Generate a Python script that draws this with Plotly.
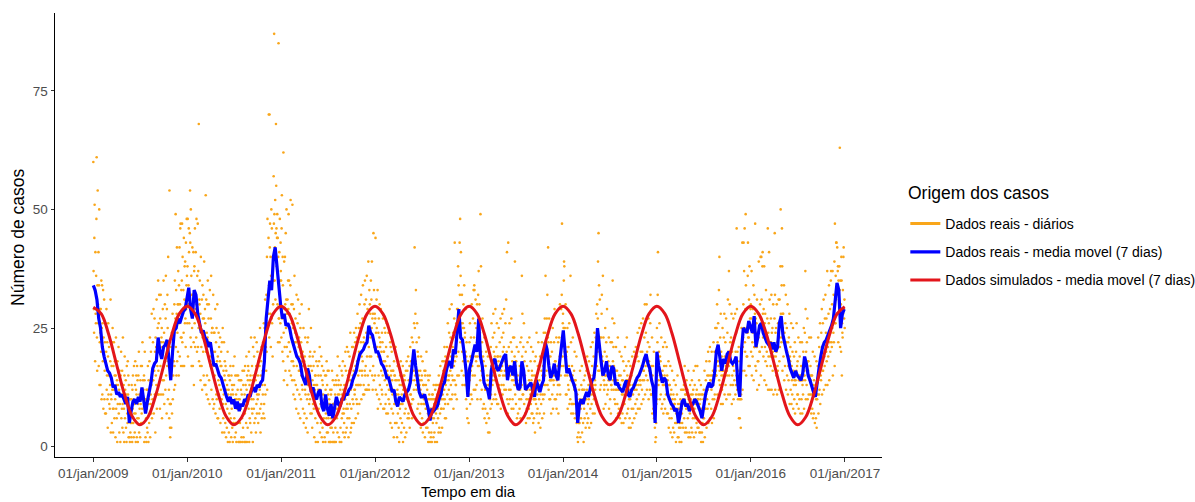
import pandas as pd
import plotly.graph_objects as go

# ---------------------------------------------------------------------------
# Daily reported cases, one list per year (starting on 1 January)
# ---------------------------------------------------------------------------
casos_2009 = [
    60, 37, 29, 24, 44, 51, 33, 18, 41, 28, 26, 36, 48, 61,
    23, 16, 34, 54, 30, 26, 41, 17, 34, 50, 13, 22, 29, 24,
    13, 29, 20, 35, 10, 25, 34, 11, 26, 18, 33, 8, 23, 20,
    31, 10, 16, 22, 7, 26, 18, 7, 20, 29, 12, 15, 22, 10,
    4, 19, 26, 11, 15, 21, 9, 23, 8, 13, 18, 31, 3, 11,
    10, 17, 5, 22, 12, 25, 8, 3, 17, 8, 22, 12, 6, 15,
    18, 10, 2, 15, 23, 8, 13, 6, 14, 1, 18, 9, 13, 16,
    21, 7, 12, 3, 16, 9, 14, 1, 15, 11, 20, 6, 13, 8,
    16, 4, 9, 23, 11, 3, 13, 8, 1, 15, 19, 6, 12, 10,
    14, 4, 11, 1, 17, 9, 7, 5, 18, 11, 15, 2, 13, 10,
    2, 7, 1, 10, 3, 5, 8, 10, 2, 13, 5, 1, 12, 8,
    15, 5, 10, 2, 17, 7, 9, 3, 13, 18, 7, 1, 12, 15,
    11, 2, 17, 6, 14, 1, 9, 15, 6, 20, 3, 11, 8, 10,
    2, 14, 9, 17, 5, 12, 7, 17, 8, 22, 5, 14, 10, 12,
    5, 15, 1, 14, 20, 8, 10, 2, 10, 6, 1, 12, 8, 4,
    12, 3, 17, 9, 1, 14, 10, 5, 18, 12, 23, 2, 9, 11,
    20, 7, 13, 28, 6, 14, 10, 9, 22, 14, 29, 7, 17, 16,
    27, 11, 20, 3, 23, 15, 21, 13, 31, 8, 21, 17, 25, 11,
    35, 16, 26, 11, 32, 20, 22, 8, 27, 17, 32, 11, 22, 23,
    25, 6, 21, 14, 29, 11, 22, 35, 14, 24, 9, 18, 30, 18,
    12, 27, 36, 15, 22, 7, 29, 17, 32, 25, 10, 40, 18, 17,
    12, 6, 54, 9, 4, 2, 9, 9, 21, 4, 15, 24, 7, 17,
    28, 10, 22, 15, 23, 18, 12, 30, 17, 35, 13, 27, 49, 21,
    33, 15, 28, 42, 18, 24, 30, 20, 37, 30, 15, 34, 26, 42,
    19, 30, 46, 47, 23, 17, 33, 23, 35, 47, 22, 40, 17, 28,
    33, 24, 44, 17, 31, 38, 26, 39, 27, 21, 43, 29, 34, 48,
    36,
]

casos_2010 = [
    26, 38, 48, 19, 30, 34, 46, 41, 26, 30, 45, 54, 43, 23,
    50, 21, 36, 17, 32, 25, 42, 32, 17, 29, 41, 22, 13, 37,
    38, 26, 46, 21, 32, 41, 29, 23, 48, 30, 20, 36, 28, 47,
    21, 37, 25, 68, 18, 31, 30, 35, 17, 28, 14, 40, 24, 21,
    17, 31, 12, 34, 23, 27, 20, 32, 15, 27, 39, 13, 24, 29,
    26, 13, 53, 20, 31, 11, 24, 15, 30, 23, 35, 10, 22, 27,
    30, 14, 22, 9, 33, 19, 18, 17, 27, 36, 12, 24, 20, 25,
    25, 10, 20, 32, 8, 17, 24, 9, 24, 15, 20, 29, 7, 17,
    22, 11, 25, 10, 18, 30, 6, 19, 6, 14, 24, 11, 21, 13,
    8, 18, 23, 5, 17, 12, 20, 17, 10, 22, 3, 14, 25, 9,
    6, 16, 11, 22, 3, 15, 18, 14, 5, 17, 9, 2, 16, 12,
    4, 13, 8, 20, 1, 11, 15, 12, 3, 15, 7, 1, 14, 10,
    17, 6, 11, 2, 15, 8, 13, 4, 12, 1, 11, 17, 5, 9,
    13, 6, 19, 2, 10, 15, 5, 3, 11, 1, 10, 15, 5, 8,
    12, 5, 15, 1, 10, 14, 9, 1, 10, 5, 14, 1, 8, 12,
    14, 2, 11, 6, 1, 16, 9, 4, 13, 2, 9, 16, 1, 11,
    7, 17, 1, 13, 10, 5, 19, 12, 1, 15, 9, 4, 14, 17,
    16, 8, 20, 1, 13, 6, 14, 5, 15, 11, 23, 3, 10, 8,
    17, 7, 14, 1, 21, 10, 15, 8, 19, 5, 23, 12, 15, 6,
    14, 3, 17, 9, 22, 7, 11, 20, 10, 15, 5, 18, 11, 13,
    7, 17, 12, 25, 8, 3, 15, 18, 9, 21, 6, 14, 13, 16,
    11, 22, 7, 17, 26, 9, 6, 25, 13, 31, 11, 20, 21, 16,
    32, 20, 40, 12, 48, 28, 26, 28, 44, 70, 34, 23, 70, 42,
    47, 28, 40, 21, 36, 50, 27, 46, 26, 36, 19, 40, 30, 35,
    57, 47, 87, 49, 35, 42, 52, 31, 45, 68, 55, 46, 38, 44,
    49, 30, 44, 22, 40, 85, 27, 27, 41, 22, 48, 35, 26, 43,
    37,
]

casos_2011 = [
    35, 23, 46, 53, 27, 20, 40, 34, 18, 62, 24, 14, 39, 29,
    21, 40, 30, 16, 45, 25, 31, 50, 21, 28, 13, 31, 19, 35,
    29, 49, 22, 35, 16, 28, 25, 20, 34, 52, 15, 27, 30, 18,
    26, 14, 51, 30, 18, 25, 11, 17, 29, 14, 36, 22, 10, 24,
    27, 13, 22, 8, 32, 17, 23, 12, 26, 19, 31, 7, 21, 16,
    23, 11, 28, 16, 6, 25, 19, 10, 22, 15, 30, 13, 18, 12,
    20, 8, 17, 25, 5, 14, 18, 7, 19, 12, 23, 11, 4, 16,
    16, 6, 15, 10, 22, 3, 13, 23, 11, 17, 29, 9, 14, 19,
    10, 20, 7, 17, 25, 13, 12, 7, 16, 4, 14, 19, 9, 11,
    17, 8, 13, 2, 20, 12, 15, 6, 15, 1, 13, 18, 8, 11,
    13, 5, 17, 1, 12, 15, 8, 7, 18, 11, 21, 3, 12, 9,
    15, 5, 19, 11, 2, 17, 14, 4, 13, 1, 11, 16, 6, 9,
    10, 2, 8, 15, 1, 12, 7, 15, 6, 18, 3, 13, 9, 16,
    3, 11, 6, 16, 1, 10, 8, 9, 1, 12, 4, 1, 11, 6,
    12, 4, 16, 8, 1, 14, 9, 3, 9, 1, 8, 13, 1, 6,
    11, 4, 14, 1, 9, 13, 8, 6, 15, 3, 19, 11, 8, 13,
    14, 2, 11, 17, 1, 9, 12, 4, 13, 9, 1, 16, 6, 11,
    15, 7, 18, 3, 12, 8, 7, 5, 13, 2, 17, 10, 20, 3,
    16, 8, 13, 4, 21, 9, 6, 8, 15, 20, 2, 11, 16, 6,
    19, 9, 14, 24, 3, 12, 4, 8, 17, 5, 21, 13, 10, 15,
    21, 9, 16, 5, 24, 12, 11, 12, 22, 17, 6, 25, 13, 10,
    23, 9, 18, 28, 13, 7, 15, 13, 25, 20, 9, 30, 16, 13,
    26, 13, 22, 32, 10, 19, 16, 15, 27, 18, 34, 11, 22, 13,
    23, 11, 30, 16, 35, 15, 12, 17, 31, 24, 12, 36, 19, 12,
    29, 15, 25, 39, 13, 21, 12, 33, 19, 30, 16, 28, 23, 35,
    19, 31, 25, 39, 15, 27, 12, 28, 17, 45, 14, 33, 21, 26,
    28,
]

casos_2012 = [
    15, 27, 44, 12, 24, 20, 31, 25, 11, 21, 33, 8, 19, 24,
    15, 27, 10, 23, 30, 13, 21, 22, 9, 29, 16, 20, 12, 24,
    11, 22, 15, 27, 8, 18, 20, 20, 8, 25, 14, 18, 24, 9,
    11, 21, 7, 17, 26, 13, 16, 19, 7, 15, 24, 10, 12, 14,
    9, 17, 12, 22, 5, 21, 15, 16, 8, 20, 4, 14, 11, 16,
    7, 16, 12, 2, 18, 9, 15, 15, 5, 14, 21, 9, 11, 11,
    5, 14, 2, 12, 17, 7, 10, 11, 4, 14, 1, 9, 13, 8,
    15, 6, 18, 9, 3, 13, 11, 5, 13, 9, 17, 1, 12, 15,
    12, 4, 15, 7, 14, 2, 12, 8, 16, 12, 3, 18, 10, 11,
    16, 6, 12, 19, 7, 14, 6, 9, 17, 4, 14, 21, 11, 11,
    18, 9, 14, 23, 6, 16, 10, 22, 10, 19, 16, 12, 26, 14,
    42, 25, 15, 28, 18, 33, 13, 12, 22, 15, 26, 8, 20, 16,
    19, 9, 15, 23, 5, 13, 14, 7, 16, 12, 4, 19, 9, 14,
    15, 6, 11, 18, 3, 13, 9, 5, 13, 10, 16, 9, 2, 15,
    16, 8, 13, 4, 20, 10, 8, 12, 4, 15, 7, 1, 14, 10,
    3, 11, 6, 15, 1, 10, 8, 2, 8, 3, 10, 1, 6, 11,
    11, 5, 10, 2, 13, 6, 9, 3, 10, 1, 12, 8, 13, 7,
    10, 5, 13, 1, 11, 8, 9, 6, 13, 3, 15, 9, 4, 11,
    13, 7, 17, 3, 12, 8, 10, 8, 14, 4, 18, 11, 13, 10,
    16, 8, 18, 12, 21, 10, 6, 9, 19, 13, 6, 18, 14, 16,
    21, 11, 17, 26, 9, 15, 14, 12, 24, 15, 29, 10, 20, 16,
    23, 13, 19, 10, 30, 17, 15, 11, 21, 14, 24, 8, 19, 17,
    27, 14, 43, 18, 11, 23, 13, 13, 26, 19, 10, 29, 15, 24,
    29, 38, 20, 34, 15, 27, 25, 43, 32, 48, 22, 36, 41, 26,
    28, 16, 32, 20, 13, 26, 25, 18, 30, 15, 25, 34, 13, 23,
    24, 13, 20, 29, 10, 19, 22, 8, 16, 6, 14, 11, 18, 12,
    5, 13,
]

casos_2013 = [
    11, 22, 14, 26, 9, 19, 16, 23, 11, 19, 30, 10, 17, 19,
    15, 27, 19, 33, 12, 23, 34, 33, 15, 26, 12, 31, 19, 18,
    25, 13, 22, 30, 10, 19, 17, 32, 22, 37, 17, 26, 30, 24,
    24, 14, 49, 10, 38, 20, 16, 12, 22, 15, 27, 8, 19, 16,
    18, 9, 14, 23, 6, 13, 12, 8, 17, 12, 20, 5, 13, 12,
    15, 7, 14, 19, 3, 12, 13, 6, 13, 3, 15, 10, 12, 8,
    21, 11, 17, 26, 9, 15, 14, 13, 23, 18, 28, 10, 20, 15,
    24, 14, 19, 11, 29, 16, 18, 10, 21, 14, 26, 9, 19, 17,
    19, 9, 18, 25, 13, 15, 15, 22, 12, 19, 27, 8, 16, 16,
    13, 23, 17, 28, 11, 20, 15, 24, 13, 21, 29, 12, 18, 16,
    15, 26, 19, 12, 31, 18, 20, 41, 10, 17, 7, 15, 43, 9,
    21, 12, 17, 26, 10, 15, 16, 12, 22, 16, 27, 8, 20, 14,
    18, 10, 16, 23, 8, 14, 15, 23, 13, 19, 39, 11, 17, 18,
    9, 18, 13, 21, 6, 14, 13, 15, 7, 13, 20, 5, 12, 10,
    8, 17, 12, 22, 6, 13, 10, 23, 13, 36, 19, 28, 11, 17,
    11, 21, 15, 26, 9, 18, 14, 15, 7, 13, 20, 5, 12, 10,
    8, 17, 12, 22, 6, 13, 10, 16, 8, 14, 23, 6, 13, 12,
    11, 18, 9, 21, 14, 7, 16, 15, 7, 13, 20, 5, 12, 10,
    6, 15, 10, 18, 3, 11, 10, 19, 9, 15, 24, 7, 14, 11,
    8, 17, 12, 22, 5, 13, 10, 14, 7, 12, 19, 4, 11, 12,
    9, 16, 13, 22, 6, 15, 11, 17, 10, 15, 24, 7, 13, 11,
    27, 15, 24, 36, 13, 21, 20, 16, 27, 20, 32, 13, 23, 42,
    22, 12, 19, 27, 10, 16, 14, 10, 19, 14, 22, 7, 15, 14,
    20, 11, 16, 25, 8, 15, 14, 13, 22, 17, 29, 10, 18, 15,
    18, 10, 16, 23, 8, 14, 15, 11, 17, 13, 22, 7, 15, 13,
    23, 13, 19, 30, 11, 17, 15, 17, 29, 21, 32, 47, 23, 19,
    26,
]

casos_2014 = [
    28, 17, 25, 35, 39, 38, 20, 25, 15, 21, 30, 11, 19, 17,
    11, 20, 15, 25, 8, 16, 13, 21, 12, 17, 26, 9, 16, 15,
    10, 36, 14, 22, 7, 15, 9, 17, 9, 15, 23, 7, 14, 13,
    9, 16, 12, 20, 6, 14, 13, 14, 7, 12, 19, 5, 11, 11,
    2, 7, 1, 8, 3, 5, 9, 12, 5, 10, 16, 2, 9, 8,
    6, 13, 9, 17, 3, 12, 10, 12, 5, 10, 1, 14, 8, 12,
    6, 15, 10, 18, 4, 11, 10, 16, 7, 12, 19, 5, 11, 9,
    6, 13, 10, 18, 4, 11, 11, 15, 8, 13, 21, 5, 12, 9,
    11, 17, 12, 22, 7, 15, 13, 19, 10, 15, 24, 7, 14, 12,
    13, 23, 17, 28, 9, 20, 17, 30, 20, 27, 39, 16, 45, 23,
    34, 16, 23, 31, 12, 20, 19, 13, 23, 17, 28, 32, 19, 15,
    18, 36, 16, 23, 8, 14, 12, 13, 20, 15, 25, 9, 17, 15,
    22, 13, 19, 29, 11, 17, 16, 12, 18, 14, 23, 8, 16, 14,
    17, 10, 15, 22, 7, 13, 13, 12, 22, 16, 27, 35, 18, 14,
    21, 12, 17, 26, 10, 16, 15, 9, 16, 12, 21, 6, 14, 12,
    16, 9, 14, 23, 7, 13, 12, 8, 15, 12, 20, 6, 13, 12,
    15, 8, 12, 19, 5, 11, 14, 7, 14, 11, 18, 5, 12, 12,
    16, 9, 13, 21, 6, 12, 13, 11, 17, 14, 23, 7, 15, 11,
    14, 8, 11, 18, 4, 10, 12, 6, 13, 10, 17, 4, 11, 11,
    15, 8, 12, 19, 5, 13, 11, 8, 17, 12, 20, 6, 13, 12,
    18, 9, 14, 21, 7, 13, 12, 10, 19, 14, 24, 8, 15, 13,
    18, 11, 15, 25, 8, 14, 14, 13, 20, 16, 26, 9, 17, 12,
    20, 14, 17, 27, 10, 16, 16, 14, 23, 18, 30, 11, 19, 17,
    24, 15, 19, 30, 12, 20, 18, 14, 22, 17, 27, 10, 18, 16,
    21, 12, 16, 26, 32, 15, 11, 11, 17, 14, 23, 7, 15, 11,
    17, 8, 13, 20, 6, 12, 11, 4, 7, 1, 8, 2, 5, 9,
    10,
]

casos_2015 = [
    25, 15, 22, 32, 41, 17, 13, 14, 20, 16, 26, 10, 19, 16,
    18, 11, 15, 23, 8, 14, 15, 9, 16, 13, 21, 7, 14, 13,
    17, 10, 15, 22, 8, 14, 14, 11, 17, 14, 21, 7, 15, 13,
    14, 7, 11, 18, 4, 10, 13, 6, 13, 10, 17, 3, 11, 8,
    12, 6, 9, 16, 2, 10, 8, 4, 11, 8, 14, 3, 9, 9,
    10, 5, 8, 13, 1, 7, 8, 5, 11, 7, 15, 2, 9, 8,
    2, 7, 4, 8, 1, 5, 9, 10, 4, 7, 12, 1, 8, 7,
    5, 12, 9, 15, 4, 10, 12, 13, 6, 10, 17, 3, 11, 9,
    4, 11, 8, 14, 3, 9, 11, 12, 6, 9, 16, 2, 10, 8,
    3, 10, 7, 13, 2, 8, 10, 11, 4, 8, 14, 3, 9, 11,
    6, 12, 9, 16, 2, 10, 8, 13, 6, 10, 17, 3, 11, 9,
    5, 12, 9, 17, 4, 10, 10, 11, 4, 8, 14, 3, 9, 11,
    3, 10, 7, 13, 1, 8, 11, 3, 7, 5, 11, 1, 6, 10,
    12, 6, 9, 16, 2, 10, 8, 8, 14, 11, 18, 4, 12, 10,
    15, 8, 12, 20, 5, 13, 15, 9, 18, 13, 21, 6, 14, 14,
    15, 8, 12, 20, 5, 13, 15, 10, 16, 13, 22, 6, 15, 10,
    20, 11, 15, 25, 8, 16, 15, 15, 25, 18, 30, 11, 22, 18,
    26, 17, 21, 33, 14, 40, 16, 13, 23, 18, 28, 9, 20, 15,
    19, 12, 16, 25, 9, 15, 16, 14, 23, 18, 28, 11, 19, 18,
    22, 13, 17, 27, 10, 18, 16, 15, 24, 19, 31, 11, 20, 17,
    37, 15, 20, 30, 11, 22, 18, 13, 23, 18, 28, 9, 20, 15,
    22, 13, 17, 27, 10, 18, 16, 14, 23, 18, 28, 11, 20, 13,
    24, 15, 46, 29, 12, 20, 18, 10, 16, 13, 21, 6, 14, 10,
    6, 13, 10, 18, 4, 11, 10, 25, 16, 20, 43, 12, 21, 23,
    30, 43, 25, 37, 16, 46, 22, 20, 29, 49, 34, 15, 25, 19,
    29, 19, 24, 36, 43, 23, 17, 23, 31, 26, 38, 17, 27, 25,
    29,
]

casos_2016 = [
    30, 20, 27, 37, 15, 25, 22, 19, 29, 24, 34, 14, 25, 21,
    32, 21, 28, 47, 17, 27, 24, 16, 26, 21, 31, 12, 23, 18,
    28, 18, 23, 39, 13, 25, 20, 20, 30, 25, 40, 15, 27, 40,
    31, 21, 26, 38, 41, 28, 23, 19, 29, 24, 38, 14, 26, 21,
    28, 18, 23, 33, 13, 24, 20, 17, 27, 22, 46, 12, 24, 19,
    26, 41, 21, 31, 12, 22, 19, 17, 27, 22, 32, 12, 24, 21,
    25, 16, 20, 30, 11, 21, 19, 17, 27, 45, 32, 12, 24, 19,
    25, 15, 20, 30, 11, 22, 17, 16, 26, 21, 31, 12, 23, 18,
    31, 21, 26, 38, 50, 28, 23, 22, 34, 46, 38, 16, 28, 25,
    28, 19, 23, 34, 14, 24, 22, 17, 26, 21, 32, 12, 22, 20,
    25, 15, 20, 30, 11, 22, 17, 14, 23, 18, 28, 9, 19, 18,
    21, 12, 16, 26, 9, 17, 14, 11, 20, 15, 25, 8, 16, 13,
    19, 10, 14, 22, 7, 15, 14, 13, 20, 16, 26, 9, 17, 11,
    18, 11, 15, 23, 8, 14, 15, 10, 19, 14, 22, 7, 15, 14,
    17, 10, 14, 22, 7, 13, 14, 11, 20, 15, 25, 8, 16, 15,
    24, 14, 37, 29, 10, 20, 18, 13, 22, 17, 27, 10, 18, 16,
    18, 11, 15, 23, 8, 14, 15, 11, 17, 14, 23, 7, 15, 11,
    15, 8, 12, 20, 6, 13, 12, 7, 14, 11, 19, 5, 12, 11,
    13, 6, 10, 18, 4, 11, 10, 11, 17, 14, 23, 7, 15, 11,
    21, 12, 16, 26, 9, 17, 15, 14, 24, 19, 29, 11, 20, 16,
    26, 16, 21, 31, 12, 22, 19, 17, 27, 22, 32, 13, 24, 20,
    27, 18, 22, 37, 13, 23, 21, 19, 28, 23, 34, 14, 24, 22,
    29, 20, 24, 35, 37, 25, 22, 21, 30, 25, 37, 15, 26, 24,
    32, 22, 27, 39, 17, 47, 26, 26, 36, 31, 43, 43, 32, 28,
    42, 28, 37, 38, 22, 35, 33, 28, 38, 33, 63, 21, 35, 30,
    30, 20, 40, 35, 15, 26, 24, 23, 33, 28, 40, 42, 29, 27,
    31, 25,
]

# ---------------------------------------------------------------------------
# 7-day moving average of the reported cases, sampled weekly from 01/jan/2009
# ---------------------------------------------------------------------------
media_movel_real = [
    34, 33, 31, 27, 25, 21, 19, 17.5, 16, 15.5, 14.5, 12.5, 13, 11, 11.5, 10.5,
    11, 10, 9, 10.5, 5, 7.5, 9.5, 10, 9, 10.5, 9.5, 12.5, 10, 7, 9.5, 11.5,
    13.5, 16.5, 17.5, 18, 23, 20, 18.5, 21, 21.5, 22.5, 18, 14, 20, 24.5, 25,
    27, 26, 27.5, 28.5, 29,
    31, 33.5, 29, 27, 33, 32, 28, 26, 24, 24.5, 23, 22.5, 21, 22, 19.5, 17,
    17.5, 16, 15, 14.5, 13, 11.5, 10.5, 9.5, 10.5, 9, 10, 8, 9.5, 7.5, 9, 8.5,
    10, 9.5, 11, 10.5, 12, 12.5, 11.5, 13, 12.5, 13.5, 14, 18, 27, 31, 35, 33,
    40, 42, 37, 34,
    30, 27, 28, 25.5, 26, 25, 23, 21.5, 20, 19, 18.5, 17.5, 15, 14, 13, 16.5,
    15, 11.5, 12.5, 10.5, 10, 11.5, 12, 8.5, 7.5, 11, 8, 6.5, 9, 6, 8.5, 10.5,
    9, 8.5, 10, 10, 11, 11, 12, 12.5, 14, 15, 16, 18, 19.5, 20, 20.5, 21.5,
    22, 25.5, 24, 23.5,
    21.5, 20, 20, 19, 17.5, 17, 16, 14.5, 14.5, 13, 11.5, 12, 9.5, 8.5, 10.5,
    10, 9.5, 11, 11.5, 12, 13.5, 17, 20.5, 17, 14, 11.5, 10.5, 10.5, 11, 9.5,
    8, 5.5, 8, 7.5, 8, 8.5, 10, 11, 13, 13.5, 16, 17.5, 18, 16.5, 20.5, 19.5,
    24, 29, 23, 22.5, 19.5, 16, 10.5,
    16.5, 18, 20, 21.5, 20, 27, 19, 17, 13.5, 12.5, 12, 10, 16, 18, 18.5, 16.5,
    16, 17, 18, 19, 19.5, 14, 16.5, 17, 15, 18, 13.5, 12, 12.5, 18, 16, 12,
    12.5, 13, 13.5, 12, 10.5, 14, 12.5, 11.5, 13, 14, 22, 20.5, 17, 14.5,
    15.5, 17.5, 15, 14, 18, 22,
    24.5, 20, 15.5, 16.5, 15, 14, 13, 11.5, 5, 9, 10, 9, 10.5, 11.5, 10.5, 12,
    14, 14.5, 18, 25, 21, 18, 15, 16, 18, 15, 14, 17, 16.5, 13, 13.5, 12.5,
    12, 11.5, 13, 14, 11, 10.5, 12, 12.5, 13.5, 14.5, 15, 16, 17, 18.5, 19.5,
    17.5, 16.5, 14, 12.5, 5,
    20, 17, 15, 13.5, 14.5, 14, 11, 10, 9, 8.5, 7.5, 8, 5, 7, 9.5, 10, 8.5, 9,
    7.5, 8.5, 9, 10, 9.5, 8.5, 7.5, 6, 9, 11, 12.5, 13.5, 12.5, 13, 15.5, 20,
    21.5, 18, 16, 18.5, 17.5, 19.5, 20, 18, 17.5, 18, 19, 13, 10.5, 20.5, 25,
    24.5, 24, 26.5,
    25, 24, 27.5, 21, 23, 25.5, 26, 24, 23, 22, 21.5, 22, 20.5, 22, 20, 21, 26,
    27.5, 23.5, 21.5, 20, 18.5, 16.5, 15.5, 14.5, 16, 15, 14.5, 14, 15.5, 19,
    17.5, 15, 14, 12.5, 11.5, 10.5, 14, 16.5, 19, 21, 22, 22.5, 23.5, 24.5,
    25.5, 27, 31, 34.5, 33, 25, 28, 29,
]

# ---------------------------------------------------------------------------
# Simulated 7-day moving average, first day of each month (2009-01 .. 2016-12)
# plus the last day of the series
# ---------------------------------------------------------------------------
media_movel_simulada = [
    29.4, 28.0, 23.8, 17.4, 11.2, 6.4, 4.6, 6.2, 10.9, 17.0, 23.4, 28.0,
    29.6, 28.0, 23.8, 17.4, 11.2, 6.4, 4.6, 6.2, 10.9, 17.0, 23.4, 28.0,
    29.6, 28.0, 23.8, 17.4, 11.2, 6.4, 4.6, 6.2, 10.9, 17.0, 23.4, 28.0,
    29.6, 28.0, 23.8, 17.4, 11.2, 6.4, 4.6, 6.2, 10.9, 17.0, 23.4, 28.0,
    29.6, 28.0, 23.8, 17.4, 11.2, 6.4, 4.6, 6.2, 10.9, 17.0, 23.4, 28.0,
    29.6, 28.0, 23.8, 17.4, 11.2, 6.4, 4.6, 6.2, 10.9, 17.0, 23.4, 28.0,
    29.6, 28.0, 23.8, 17.4, 11.2, 6.4, 4.6, 6.2, 10.9, 17.0, 23.4, 28.0,
    29.6, 28.0, 23.8, 17.4, 11.2, 6.4, 4.6, 6.2, 10.9, 17.0, 23.4, 28.0,
    29.5,
]

anos_ticks = [2009, 2010, 2011, 2012, 2013, 2014, 2015, 2016, 2017]
rotulos_ticks = [f"01/jan/{a}" for a in anos_ticks]
y_ticks = [0, 25, 50, 75]

COR_DIARIO = "#F9A61A"
COR_REAL = "#0000FF"
COR_SIM = "#E3151B"
FONTE = "Liberation Sans, Arial, sans-serif"

# ---------------------------------------------------------------------------
# Assemble series
# ---------------------------------------------------------------------------
serie_diaria = []
for ano, valores in zip(range(2009, 2017),
                        [casos_2009, casos_2010, casos_2011, casos_2012,
                         casos_2013, casos_2014, casos_2015, casos_2016]):
    datas = pd.date_range(f"{ano}-01-01", periods=len(valores), freq="D")
    serie_diaria.append(pd.Series(valores, index=datas))
serie_diaria = pd.concat(serie_diaria)

datas_real = pd.date_range("2009-01-01", periods=len(media_movel_real), freq="7D")
datas_sim = list(pd.date_range("2009-01-01", periods=len(media_movel_simulada) - 1,
                               freq="MS")) + [pd.Timestamp("2016-12-31")]

fig = go.Figure()

fig.add_trace(go.Scatter(
    x=serie_diaria.index, y=serie_diaria.values, mode="markers",
    marker=dict(color=COR_DIARIO, size=2.6, line=dict(width=0)),
    showlegend=False, legendgroup="diario", hoverinfo="skip",
))
fig.add_trace(go.Scatter(
    x=[None], y=[None], mode="lines", line=dict(color=COR_DIARIO, width=3),
    name="Dados reais - diários", legendgroup="diario",
))
fig.add_trace(go.Scatter(
    x=datas_real, y=media_movel_real, mode="lines",
    line=dict(color=COR_REAL, width=3.2),
    name="Dados reais - media movel (7 dias)", legendgroup="real",
))
fig.add_trace(go.Scatter(
    x=datas_sim, y=media_movel_simulada, mode="lines",
    line=dict(color=COR_SIM, width=3, shape="spline", smoothing=1.0),
    name="Dados simulados - media movel (7 dias)", legendgroup="sim",
))

eixo = dict(
    showline=True, linecolor="#000000", linewidth=1,
    ticks="outside", ticklen=3.5, tickwidth=1, tickcolor="#333333",
    tickfont=dict(family=FONTE, size=13.5, color="#4D4D4D"),
    showgrid=False, zeroline=False,
)

# plot area spans 13 px .. 457 px vertically
TOPO, BASE = 13, 457
ALTURA_PLOT = BASE - TOPO


def py(pixel):
    """Paper y coordinate of a pixel row."""
    return (BASE - pixel) / ALTURA_PLOT


fig.update_layout(
    width=1195, height=502,
    margin=dict(l=55, r=313, t=TOPO, b=502 - BASE, autoexpand=False),
    paper_bgcolor="white", plot_bgcolor="white",
    font=dict(family=FONTE, color="#000000"),
    xaxis=dict(
        eixo, type="date", range=["2008-08-05", "2017-05-25"],
        tickvals=[f"{a}-01-01" for a in anos_ticks], ticktext=rotulos_ticks,
    ),
    yaxis=dict(eixo, range=[-2.17, 91.39], tickvals=y_ticks,
               ticktext=[str(v) for v in y_ticks]),
    legend=dict(
        x=1.0282, xanchor="left", y=py(208), yanchor="top",
        font=dict(family=FONTE, size=14, color="#000000"),
        tracegroupgap=7, itemwidth=30, bgcolor="rgba(0,0,0,0)",
    ),
    annotations=[
        dict(text="Origem dos casos", xref="paper", yref="paper",
             x=1.0296, y=py(192.5), showarrow=False,
             xanchor="left", yanchor="middle",
             font=dict(family=FONTE, size=17.5, color="#000000")),
        dict(text="Número de casos", xref="paper", yref="paper",
             x=-0.0448, y=py(237), textangle=-90, showarrow=False,
             xanchor="center", yanchor="middle",
             font=dict(family=FONTE, size=17.5, color="#000000")),
        dict(text="Tempo em dia", xref="paper", yref="paper",
             x=0.5, y=py(501), showarrow=False,
             xanchor="center", yanchor="bottom", borderpad=0,
             font=dict(family=FONTE, size=15, color="#000000")),
    ],
)

fig.write_html("out.html")
